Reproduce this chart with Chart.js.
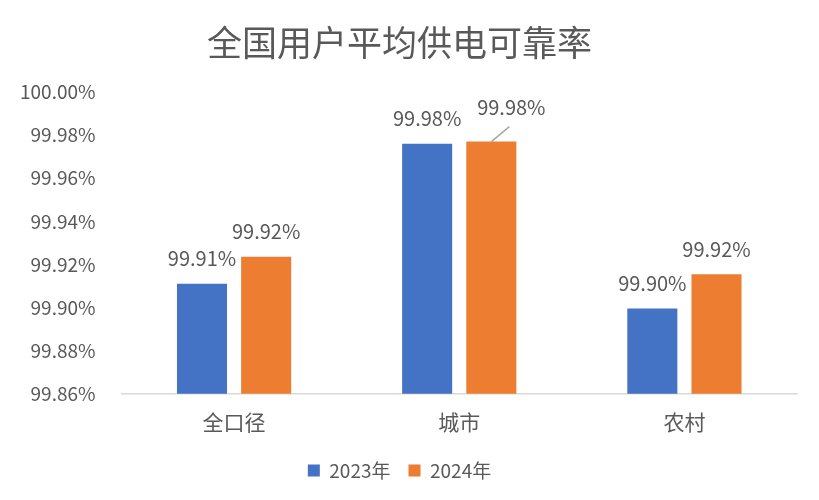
<!DOCTYPE html>
<html>
<head>
<meta charset="utf-8">
<script src="https://cdn.jsdelivr.net/npm/chart.js@4"></script>
<style>
  html, body { margin: 0; padding: 0; background: #fff; }
  #wrap { width: 819px; height: 500px; }
</style>
</head>
<body>
<div id="wrap"><canvas id="stage"></canvas></div>
<script>
const categories = ['全口径', '城市', '农村'];
const seriesNames = ['2023年', '2024年'];
const values2023 = [99.911, 99.976, 99.8996];
const values2024 = [99.9236, 99.977, 99.9155];
const yMin = 99.86, yMax = 100.00, yStep = 0.02;

const FONT = '"Noto Sans CJK SC", "Noto Sans", sans-serif';
const TEXT = '#595959';

// 数据标签（城市2024带引导线）
const labelPlugin = {
  id: 'barLabels',
  afterDatasetsDraw(chart) {
    const ctx = chart.ctx;
    ctx.save();
    ctx.font = '20px ' + FONT;
    ctx.fillStyle = TEXT;
    ctx.textAlign = 'center';
    ctx.textBaseline = 'middle';
    chart.data.datasets.forEach((ds, di) => {
      chart.getDatasetMeta(di).data.forEach((bar, i) => {
        const txt = ds.data[i].toFixed(2) + '%';
        let x = bar.x, y = bar.y - 25;
        if (di === 1 && i === 1) {
          x = bar.x + 20; y = bar.y - 34;
          ctx.strokeStyle = '#a6a6a6';
          ctx.lineWidth = 1.5;
          ctx.beginPath();
          ctx.moveTo(bar.x, bar.y);
          ctx.lineTo(bar.x + 18, bar.y - 15);
          ctx.stroke();
        }
        ctx.fillText(txt, x, y);
      });
    });
    ctx.restore();
  }
};

new Chart(document.getElementById('stage'), {
  type: 'bar',
  data: {
    labels: categories,
    datasets: [{
      label: seriesNames[0],
      data: values2023,
      backgroundColor: '#4472C4',
    }, {
      label: seriesNames[1],
      data: values2024,
      backgroundColor: '#ED7D31',
    }]
  },
  options: {
    responsive: true,
    maintainAspectRatio: false,
    animation: false,
    categoryPercentage: 0.57,
    barPercentage: 0.78,
    layout: { padding: { left: 2, right: 22, top: 10, bottom: 10 } },
    plugins: {
      title: {
        display: true,
        text: '全国用户平均供电可靠率',
        color: TEXT,
        font: { family: FONT, size: 35, weight: 'normal' },
        padding: { top: 12, bottom: 28 }
      },
      legend: {
        position: 'bottom',
        labels: {
          color: TEXT,
          font: { family: FONT, size: 19 },
          boxWidth: 12, boxHeight: 12, padding: 18
        }
      },
      tooltip: { enabled: false }
    },
    scales: {
      x: {
        grid: { display: false },
        border: { color: '#d9d9d9', width: 1.5 },
        ticks: { color: TEXT, font: { family: FONT, size: 21 }, padding: 8 }
      },
      y: {
        min: yMin, max: yMax,
        grid: { display: false },
        border: { display: false },
        ticks: {
          stepSize: yStep,
          color: TEXT,
          font: { family: FONT, size: 19 },
          padding: 18,
          callback: v => v.toFixed(2) + '%'
        }
      }
    }
  },
  plugins: [labelPlugin]
});
</script>
</body>
</html>
